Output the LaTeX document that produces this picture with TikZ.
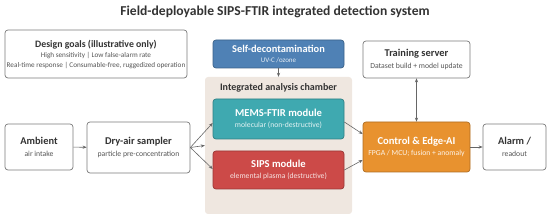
\documentclass[tikz,border=0pt]{standalone}
\usepackage{fontspec}
\setmainfont{Carlito}
\usetikzlibrary{arrows.meta}
\definecolor{ink}{HTML}{333333}
\definecolor{soft}{HTML}{555555}
\definecolor{line}{HTML}{7A7A7A}
\definecolor{decon}{HTML}{4F81B5}
\definecolor{ftir}{HTML}{3FA9B0}
\definecolor{sips}{HTML}{CC4A48}
\definecolor{ctrl}{HTML}{E8922F}
\definecolor{chamber}{HTML}{EFE7E0}

\begin{document}
\begin{tikzpicture}[x=1pt,y=-1pt,font=\fontsize{7.7}{9}\selectfont,text=ink,
 plain/.style={draw=line,fill=white,line width=.7pt,rounded corners=3pt,align=center,inner sep=1pt},
 solid/.style={draw=#1!75!black,fill=#1,line width=.7pt,rounded corners=3pt,align=center,inner sep=1pt,text=white},
 flow/.style={-{Stealth[length=4pt,width=3.2pt]},draw=soft!90,line width=.6pt},
 both/.style={{Stealth[length=4pt,width=3.2pt]}-{Stealth[length=4pt,width=3.2pt]},draw=soft!90,line width=.6pt}]
\path[use as bounding box] (0,0) rectangle (550,221);
\node[font=\bfseries\fontsize{13.6}{15}\selectfont] (title) at (275,12)
 {Field-deployable SIPS-FTIR integrated detection system};
% goals and support services
\node[plain,minimum width=182,minimum height=48] (goals) at (96,54)
 {{\bfseries\fontsize{9.8}{11}\selectfont Design goals (illustrative only)}\\[1.5pt]
 {\color{soft}\fontsize{7.2}{8.5}\selectfont High sensitivity | Low false-alarm rate}\\[0.5pt]
 {\color{soft}\fontsize{7.2}{8.5}\selectfont Real-time response | Consumable-free, ruggedized operation}};
\node[solid=decon,minimum width=131,minimum height=28] (decon) at (278.5,54)
 {{\bfseries\fontsize{10.4}{11}\selectfont Self-decontamination}\\[0.5pt]
 {\color{white!85!decon}\fontsize{7}{8}\selectfont UV-C /ozone}};
\node[plain,minimum width=107,minimum height=37] (train) at (416.5,59.5)
 {{\bfseries\fontsize{10.4}{11}\selectfont Training server}\\[2.5pt]
 {\color{soft}Dataset build + model update}};
% analysis chamber
\node[fill=chamber,rounded corners=3pt,minimum width=147,minimum height=137] (chamber) at (278.5,145.5) {};
\node[font=\bfseries\fontsize{10}{11}\selectfont] (chtitle) at (278.5,88) {Integrated analysis chamber};
\node[solid=ftir,minimum width=131,minimum height=40] (ftir) at (278.5,119)
 {{\bfseries\fontsize{10.6}{12}\selectfont MEMS-FTIR module}\\[1.5pt]
 {\color{white!85!ftir}molecular (non-destructive)}};
\node[solid=sips,minimum width=131,minimum height=38] (sips) at (278.5,170)
 {{\bfseries\fontsize{10.6}{12}\selectfont SIPS module}\\[1.5pt]
 {\color{white!85!sips}elemental plasma (destructive)}};
% main chain
\node[plain,minimum width=68,minimum height=46] (amb) at (39,147)
 {{\bfseries\fontsize{10.4}{11}\selectfont Ambient}\\[2.5pt]
 {\color{soft}air intake}};
\node[plain,minimum width=103,minimum height=51] (dry) at (138.5,147.5)
 {{\bfseries\fontsize{10.4}{11}\selectfont Dry-air sampler}\\[2.5pt]
 {\color{soft}particle pre-concentration}};
\node[solid=ctrl,minimum width=107,minimum height=50] (ctrl) at (416.5,147)
 {{\bfseries\fontsize{10.6}{12}\selectfont Control \& Edge-AI}\\[1.5pt]
 {\color{white!88!ctrl}FPGA / MCU; fusion + anomaly}};
\node[plain,minimum width=63,minimum height=46] (alarm) at (514.5,147)
 {{\bfseries\fontsize{10.4}{11}\selectfont Alarm /}\\[2.5pt]
 {\color{soft}readout}};
\draw[flow] (amb) -- (dry);
\draw[flow] (dry.east) -- (chamber.west);
\draw[flow] (dry.east) -- ([yshift=-4pt]ftir.west);
\draw[flow] (dry.east) -- ([yshift=1pt]sips.west);
\draw[flow] (decon) -- (chamber.north);
\draw[flow] ([yshift=-3pt]ftir.east) -- ([yshift=13pt]ctrl.west);
\draw[flow] (sips.east) -- ([yshift=-13pt]ctrl.west);
\draw[both] (train) -- (ctrl);
\draw[flow] (ctrl) -- (alarm);
\end{tikzpicture}
\end{document}
